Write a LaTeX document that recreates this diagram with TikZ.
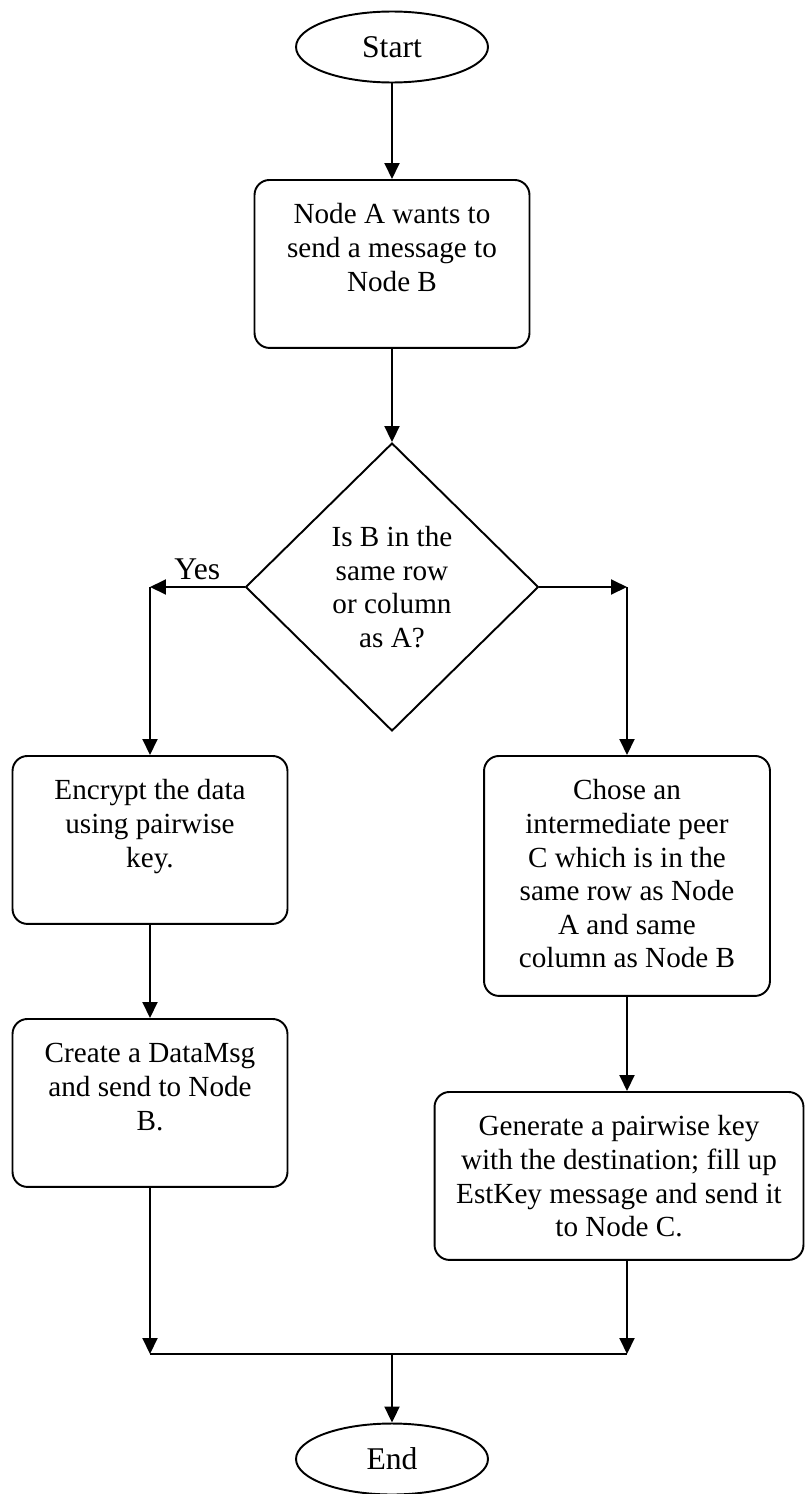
\documentclass[tikz,border=0pt]{standalone}
\usepackage{fontspec}
\setmainfont{Liberation Serif}
\usetikzlibrary{shapes.geometric,arrows.meta}

\tikzset{
	flowbox/.style={draw, rounded corners=0.3cm, minimum width=5.5cm, text width=5.3cm, inner xsep=0.1cm, inner ysep=0pt, text height=0.88cm, text depth=2.48cm, align=flush center, anchor=north},
	terminal/.style={draw, ellipse, minimum width=3.84cm, minimum height=1.42cm, inner sep=0pt, font=\fontsize{18}{21}\selectfont},
	decision/.style={draw, diamond, minimum width=5.86cm, minimum height=5.76cm, inner sep=0pt, align=flush center}
}

\begin{document}
\begin{tikzpicture}[x=0.02cm, y=-0.02cm, line width=1.1pt, >={Triangle[length=0.32cm,width=0.3cm]}, font=\fontsize{16.6}{19.1}\selectfont]
		% Page frame
		\useasboundingbox (0,0) rectangle (805,1494);

		% Shapes
		\node[terminal] (start) at (392,47) {Start};
		\node[flowbox] (want) at (392,179) {Node A wants to\\ send a message to\\ Node B};
		\node[decision] (ask) at (392,587) {Is B in the\\ same row\\ or column\\ as A?};
		\node[flowbox] (encrypt) at (150,755) {Encrypt the data\\ using pairwise\\ key.};
		\node[flowbox] (create) at (150,1018) {Create a DataMsg\\ and send to Node\\ B.};
		\node[flowbox, minimum width=5.72cm, text width=5.52cm, text depth=3.92cm] (chose) at (627,755) {Chose an\\ intermediate peer\\ C which is in the\\ same row as Node\\ A and same\\ column as Node B};
		\node[flowbox, minimum width=7.38cm, text width=7.18cm] (generate) at (619,1091) {Generate a pairwise key\\ with the destination; fill up\\ EstKey message and send it\\ to Node C.};
		\node[terminal] (finish) at (392,1459) {End};

		% Corners of the lines
		\coordinate (yes) at (150,587);
		\coordinate (no) at (627,587);
		\coordinate (joinl) at (150,1354);
		\coordinate (joinr) at (627,1354);
		\coordinate (joinm) at (392,1354);

		% Lines and arrows
		\draw[->] (start) -- (want);
		\draw[->] (want) -- (ask);
		\draw[->] (ask.west) -- node[above, font=\fontsize{18}{21}\selectfont] {Yes} (yes);
		\draw[->] (yes) -- (encrypt);
		\draw[->] (encrypt) -- (create);
		\draw[->] (ask.east) -- (no);
		\draw[->] (no) -- (chose);
		\draw[->] (chose.south) -- (chose.south |- generate.north);

		% Joining both ways
		\draw[->] (create) -- (joinl);
		\draw[->] (generate.south -| joinr) -- (joinr);
		\draw (joinl) -- (joinr);
		\draw[->] (joinm) -- (finish);

	\end{tikzpicture}
\end{document}
